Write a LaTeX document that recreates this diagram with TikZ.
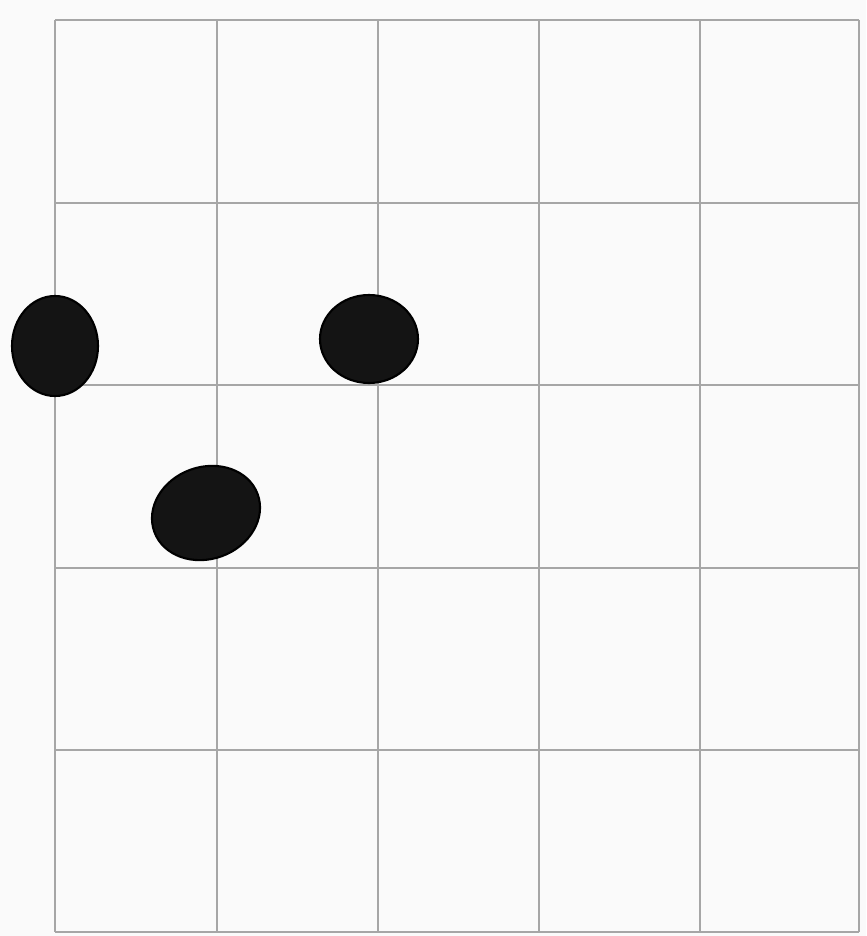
\documentclass[tikz,border=0pt]{standalone}
\begin{document}
\begin{tikzpicture}[x=0.02cm,y=-0.02cm]
    \tikzset{
        gridline/.style={draw=black!35,line width=1.1pt},
        counter/.style={fill=black!92,draw=black,line width=1.2pt}
    }

    \useasboundingbox (0,0) rectangle (866,936);
    \fill[black!2] (0,0) rectangle (866,936);

    % grid
    \foreach \gx in {55,217,378,539,700,859}
        \draw[gridline] (\gx,20) -- (\gx,932);
    \foreach \gy in {20,203,385,568,750,932}
        \draw[gridline] (55,\gy) -- (859,\gy);

    % counters
    \fill[counter] (55,346) ellipse [x radius=43,y radius=50];
    \fill[counter] (369,339) ellipse [x radius=49,y radius=44];
    \fill[counter,rotate around={20:(206,513)}] (206,513) ellipse [x radius=55,y radius=46];
\end{tikzpicture}
\end{document}
